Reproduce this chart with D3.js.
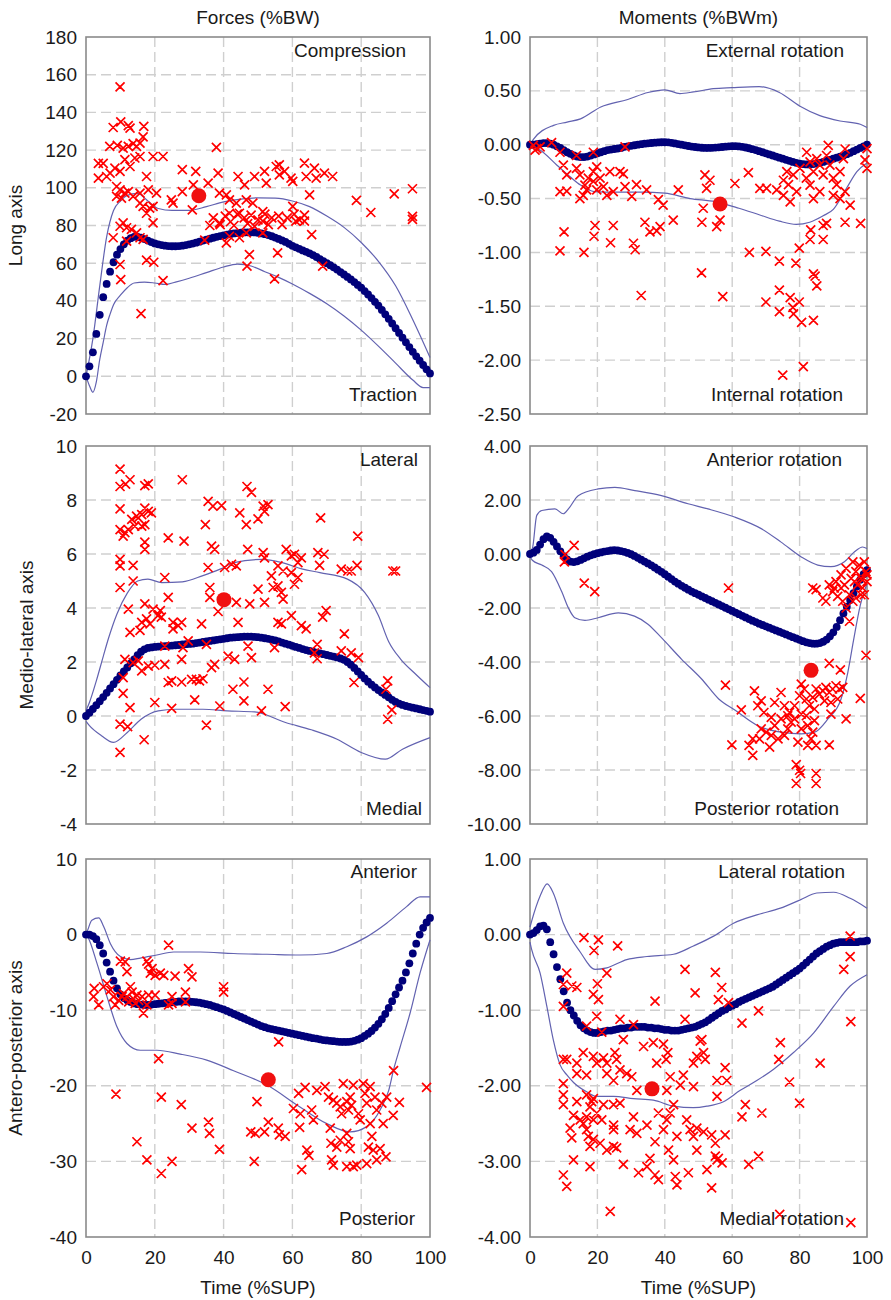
<!DOCTYPE html>
<html><head><meta charset="utf-8">
<script src="https://cdn.jsdelivr.net/npm/d3@7"></script>
<style>
body{margin:0;background:#fff;}
text{font-family:Arial,"Liberation Sans",sans-serif;fill:#1a1a1a;}
</style></head><body>
<svg id="chart" width="891" height="1300"></svg>
<script>
// ---------------- DATA ----------------
const time = d3.range(0, 101); // 0..100 %SUP, one mean dot per percent
const xTicks = [0, 20, 40, 60, 80, 100];
const colTitles = ["Forces (%BW)", "Moments (%BWm)"];
const rowTitles = ["Long axis", "Medio-lateral axis", "Antero-posterior axis"];
const xTitle = "Time (%SUP)";

const ticksA = [-20, 0, 20, 40, 60, 80, 100, 120, 140, 160, 180];
const ticksB = [-2.5, -2, -1.5, -1, -0.5, 0, 0.5, 1];
const ticksC = [-4, -2, 0, 2, 4, 6, 8, 10];
const ticksD = [-10, -8, -6, -4, -2, 0, 2, 4];
const ticksE = [-40, -30, -20, -10, 0, 10];
const ticksF = [-4, -3, -2, -1, 0, 1];

const labelsA = ["Compression", "Traction"];
const labelsB = ["External rotation", "Internal rotation"];
const labelsC = ["Lateral", "Medial"];
const labelsD = ["Anterior rotation", "Posterior rotation"];
const labelsE = ["Anterior", "Posterior"];
const labelsF = ["Lateral rotation", "Medial rotation"];

const meanA = [0,5.3,12.7,22.5,32.6,42,49,55.5,60.5,64.5,67.5,70,72,73.3,74,74,73.5,72.8,72,71.2,70.5,70,69.6,69.3,69.1,69,69,69.1,69.3,69.6,70,70.4,70.9,71.4,72,72.5,73,73.5,74,74.4,74.8,75.2,75.5,75.8,76,76.2,76.3,76.4,76.4,76.3,76.1,75.8,75.4,74.9,74.3,73.6,72.9,72.1,71.3,70.3,69.2,68.4,67.6,66.8,66,65.2,64.3,63.3,62.2,61.1,60,58.9,57.8,56.6,55.3,54,52.7,51.4,50,48.5,47,45.2,43.4,41.5,39.5,37.5,35.2,32.9,30.5,28,25.5,23,20.5,18,15.5,13,10.6,8.3,6,3.7,1.5];
const upperA = [[0,0],[2,20],[4,48],[6,74],[8,88],[10,93],[12,96],[15,97],[18,93],[21,89],[25,88],[30,88],[35,90],[40,92.5],[45,94],[50,94.7],[55,94.5],[60,93],[65,90],[70,85],[75,79],[80,71],[85,61],[90,48],[95,30],[100,10]];
const lowerA = [[0,0],[1,-5],[2,-8.5],[3,-3],[4,9],[5,18],[6,27],[7,33],[8,38],[10,43],[12,47],[14,49.5],[17,50],[20,49.5],[23,48.7],[26,50],[30,52],[35,55],[40,58],[44,59.5],[48,58.5],[52,55.5],[56,52.5],[60,49],[65,44],[70,38.5],[75,32],[80,24.5],[85,16],[90,7],[95,-2],[98,-6],[100,-6]];
const crossA = [[9.9,153.5],[7.9,132],[10.1,135],[12.3,133],[12.8,131.7],[16.8,132.6],[6.9,122],[9.1,122.5],[10.8,121],[12.3,122],[13.7,123.4],[14.7,122],[15.7,123.7],[16.6,127],[3.6,113],[5,113],[7,107.8],[8.4,110.4],[9.9,108.7],[11.3,114.9],[12.8,111.3],[14.2,115.8],[15.7,116.6],[3.6,105.1],[6,106],[17.6,106],[19.5,116.6],[22.4,116.6],[8.9,100.7],[9.9,98.9],[11.3,97.2],[12.3,98],[13.7,95.4],[8.9,95.4],[10.3,94.5],[15.7,91.9],[16.6,90.1],[18.5,89.2],[19.5,90.1],[17.6,86.5],[20.5,97.2],[15.7,97.2],[18.1,98.9],[24.8,93.6],[25.3,91.9],[28,98],[28,109.6],[31.9,108.7],[31.2,101.6],[30.9,88.3],[37.9,121.4],[35.5,102.5],[38.4,107.8],[38.8,97.2],[40.8,96.3],[41.7,93.6],[43.7,91.9],[44.2,106],[46.1,101.6],[49,106],[51.9,108.7],[52.4,102.5],[55.3,111.3],[56.2,112.2],[57.7,108.7],[59.6,105.1],[60.1,103.4],[60.1,90.1],[63.5,113.1],[64,106],[65,96.3],[66.4,110.4],[66.9,105.1],[69.3,107.8],[71.7,106],[78.6,93.3],[82.8,86.9],[89.6,96.8],[94.9,99.5],[94.9,84.8],[56.2,106.9],[48.5,91.9],[46.6,93.6],[44.6,86.5],[41.7,86.5],[51.4,87.4],[7.9,73.5],[9.9,79.6],[10.8,81.4],[11.8,78.8],[13.2,77.9],[14.7,76.1],[11.8,71.7],[15.7,73.5],[16.6,72.6],[9.9,59.3],[10.1,51.3],[17.6,61.6],[19.7,60.5],[22.4,50.8],[16,33.3],[19.5,81.4],[34.5,72.2],[38.8,81.4],[40.8,70.8],[41.7,74.3],[44.6,73.5],[46.6,76.1],[47.5,64.6],[46.8,58.4],[51.4,76.1],[55.7,65.5],[54.8,51.7],[61,82.3],[63.5,82.3],[65.6,75.2],[68.8,58.4],[94.9,83.2],[51.4,82.3],[37,84],[40.5,85],[42,82],[44,86],[46,84],[48,85.5],[50,83],[52,86],[54,84],[56,85],[58.5,84],[60.5,86],[62,83],[63.5,85.5],[36,80],[39,80.5],[43,80],[47,81],[49,79.5],[53,80.5],[57,80.5]];
const bigA = [32.8, 95.8];

const meanB = [0,0,0.005,0.01,0.015,0.015,0.01,0,-0.015,-0.03,-0.05,-0.07,-0.085,-0.1,-0.11,-0.115,-0.115,-0.11,-0.1,-0.09,-0.08,-0.07,-0.06,-0.05,-0.045,-0.04,-0.035,-0.03,-0.02,-0.015,-0.01,-0.005,0,0.005,0.01,0.013,0.016,0.019,0.021,0.023,0.023,0.022,0.018,0.012,0.006,0,-0.006,-0.012,-0.017,-0.021,-0.025,-0.028,-0.03,-0.03,-0.029,-0.027,-0.024,-0.021,-0.018,-0.015,-0.014,-0.014,-0.016,-0.02,-0.026,-0.033,-0.041,-0.05,-0.06,-0.07,-0.08,-0.09,-0.1,-0.11,-0.12,-0.13,-0.14,-0.15,-0.16,-0.168,-0.175,-0.18,-0.183,-0.183,-0.18,-0.175,-0.168,-0.16,-0.15,-0.14,-0.13,-0.12,-0.11,-0.1,-0.088,-0.075,-0.06,-0.045,-0.03,-0.015,0];
const upperB = [[0,0],[1,0.05],[7,0.18],[11,0.21],[15,0.24],[21,0.35],[29,0.42],[35,0.485],[40,0.51],[44.5,0.475],[48.5,0.49],[54.4,0.52],[60,0.53],[68,0.54],[74,0.485],[80,0.36],[86,0.27],[92,0.22],[98,0.19],[100,0.16]];
const lowerB = [[0,0],[3,-0.05],[8,-0.19],[12,-0.3],[15,-0.375],[19,-0.435],[25,-0.44],[33,-0.44],[40,-0.45],[47.5,-0.5],[55,-0.53],[62,-0.59],[68,-0.65],[74,-0.71],[79,-0.74],[83,-0.72],[87,-0.66],[90,-0.6],[94,-0.4],[97,-0.25],[100,-0.17]];
const crossB = [[1,-0.006],[2,-0.037],[1.5,-0.05],[3,-0.02],[6.4,0.02],[8.9,-0.07],[13.8,-0.1],[18.8,-0.07],[28.2,-0.02],[9.9,-0.19],[10.9,-0.28],[13.8,-0.22],[14.8,-0.28],[16.3,-0.375],[17.3,-0.31],[18.8,-0.25],[19.8,-0.205],[20.8,-0.31],[18.8,-0.34],[16.8,-0.42],[15.8,-0.47],[14.8,-0.5],[8.9,-0.435],[10.9,-0.43],[19.8,-0.42],[21.8,-0.39],[22.8,-0.47],[23.7,-0.25],[24.7,-0.435],[26.7,-0.25],[27.7,-0.27],[28.2,-0.39],[30.2,-0.48],[31.6,-0.37],[34.6,-0.42],[38.1,-0.51],[39.5,-0.56],[44,-0.42],[51.9,-0.28],[52.4,-0.405],[53.4,-0.33],[51.4,-0.59],[60.8,-0.36],[64.8,-0.26],[68.2,-0.405],[70.2,-0.405],[73.2,-0.42],[75.2,-0.33],[76.2,-0.25],[76.7,-0.37],[75.2,-0.47],[77.2,-0.53],[78.1,-0.28],[79.1,-0.435],[80.1,-0.22],[82.1,-0.07],[83.1,-0.16],[84.1,-0.25],[85.1,-0.13],[86,-0.19],[87,-0.28],[88,-0.1],[89,-0.19],[90,-0.31],[91,-0.37],[92,-0.25],[93,-0.13],[93.5,-0.04],[90,-0.47],[92,-0.5],[93.5,-0.435],[95,-0.56],[86,-0.435],[83.1,-0.375],[82,-0.31],[84.1,-0.5],[100,-0.037],[99.4,-0.14],[100,-0.22],[88.5,-0.006],[10.1,-0.81],[8.9,-0.985],[16,-1.0],[19.3,-0.75],[19,-0.85],[24.7,-0.75],[23.9,-0.91],[30.7,-0.915],[31.2,-0.975],[34.1,-0.72],[35.6,-0.81],[37.6,-0.8],[38.6,-0.76],[42.5,-0.7],[33,-1.4],[51,-0.72],[55.4,-0.76],[56.4,-0.7],[50.9,-1.19],[57.2,-1.41],[65.1,-1.0],[70,-0.99],[74,-1.08],[78.9,-1.1],[79.9,-0.96],[83.1,-0.88],[83.3,-0.79],[87,-0.88],[87,-0.75],[88,-0.73],[93.5,-0.72],[98.1,-0.73],[84.1,-1.2],[84.6,-1.22],[85.1,-1.31],[70,-1.46],[74,-1.35],[74,-1.55],[77.2,-1.42],[78,-1.51],[78.2,-1.57],[79.9,-1.46],[80.6,-1.65],[84.1,-1.63],[75,-2.14],[81.1,-2.06]];
const bigB = [56.4, -0.55];

const meanC = [0,0.12,0.26,0.4,0.55,0.7,0.86,1.02,1.18,1.34,1.5,1.65,1.8,1.95,2.1,2.25,2.38,2.47,2.52,2.54,2.56,2.57,2.58,2.59,2.6,2.61,2.62,2.63,2.65,2.66,2.67,2.68,2.7,2.72,2.74,2.76,2.78,2.8,2.82,2.84,2.86,2.88,2.9,2.91,2.92,2.93,2.94,2.94,2.94,2.93,2.92,2.9,2.88,2.86,2.83,2.8,2.76,2.72,2.68,2.64,2.6,2.56,2.52,2.48,2.44,2.41,2.38,2.35,2.32,2.29,2.26,2.23,2.2,2.17,2.13,2.08,2,1.9,1.78,1.65,1.52,1.39,1.27,1.16,1.06,0.96,0.87,0.78,0.69,0.6,0.52,0.46,0.41,0.37,0.34,0.31,0.28,0.25,0.22,0.19,0.16];
const upperC = [[0,0.2],[1,0.5],[3,1.3],[5,2.2],[6.5,2.86],[9,3.78],[12,4.55],[15,5.0],[18,5.07],[22,4.94],[28,4.97],[34,5.2],[39,5.44],[43,5.68],[51,5.8],[57,5.68],[63,5.44],[68,5.31],[76,5.07],[81,4.58],[85,3.72],[88,2.75],[91.5,2.1],[95.4,1.6],[100,1.05]];
const lowerC = [[0,-0.2],[1,-0.36],[4.5,-0.73],[8,-0.98],[12,-0.61],[16,-0.12],[21,0.19],[26,0.25],[34,0.25],[41,0.19],[49,0.15],[58,-0.24],[65.5,-0.51],[73,-0.86],[80,-1.35],[87,-1.6],[92,-1.23],[100,-0.8]];
const crossC = [[9.9,9.14],[9.9,8.5],[12.8,8.75],[11.5,8.59],[17.1,8.53],[18.1,8.6],[28,8.75],[46.8,8.5],[48.1,8.28],[9.9,7.67],[9.9,6.9],[11.3,6.79],[10.8,6.66],[12.3,6.9],[13.3,7.28],[14.2,7.03],[14.7,7.4],[16.2,7.46],[17.1,7.7],[18.1,7.58],[19,7.52],[17.1,7.09],[16.2,7.03],[15.2,7.34],[35.5,7.95],[36.9,7.77],[39.4,7.79],[44.7,7.52],[46.6,7.09],[50,7.3],[51.5,7.77],[52.9,7.83],[51.9,7.58],[68.2,7.34],[79,6.66],[23.9,6.6],[28.5,6.48],[34.7,7.09],[17.1,6.44],[17.1,6.17],[9.9,5.8],[9.9,5.56],[13.7,5.58],[9.9,4.76],[13.7,5.0],[22.9,5.13],[35.5,5.5],[37.4,6.17],[36.5,6.29],[40.3,5.5],[42.3,5.62],[43.7,5.56],[47,6.17],[51.5,6.05],[51.9,5.86],[55.8,5.56],[57.3,5.37],[58.2,6.17],[59.7,5.93],[60.6,5.99],[61.6,5.68],[62.6,5.86],[59.7,5.31],[61.6,5.13],[60.6,4.88],[67.4,6.05],[69.2,5.99],[67.9,5.58],[74.2,5.44],[76.1,5.37],[77.1,5.37],[78.8,5.58],[89.2,5.37],[90,5.37],[12.3,3.96],[17.1,4.15],[19.5,3.96],[21.6,3.9],[23.9,4.39],[17.6,3.6],[16.2,3.47],[18.6,3.41],[20.9,3.72],[21.9,3.66],[25.3,3.47],[26.8,3.35],[27.8,3.47],[25.3,3.23],[33.6,3.41],[36,4.76],[36,4.39],[38.4,3.87],[43.7,4.21],[44.2,3.47],[47.6,4.15],[50,4.7],[51.9,4.21],[53.9,5.19],[54.4,4.76],[55.8,4.82],[56.8,4.58],[57.3,4.33],[55.8,3.47],[56.8,3.41],[59.7,3.72],[62.6,3.35],[64,3.23],[69.8,3.9],[68.8,3.66],[75.1,3.04],[12.8,3.1],[15.7,3.17],[11.3,2.1],[13.7,1.98],[15.2,2.04],[16.2,1.67],[18.1,1.85],[20,1.88],[22.9,1.91],[22.9,2.59],[27.8,2.1],[28.2,2.53],[29.7,2.78],[35,2.65],[37.4,1.91],[36.5,1.79],[41.3,2.22],[43.2,2.1],[47.1,2.59],[48.1,2.16],[54.8,2.53],[66.4,2.34],[67.2,2.12],[67.2,2.65],[74.2,2.41],[77.1,2.34],[79.2,2.16],[77.9,1.24],[10.8,1.42],[10.8,0.84],[12.8,0.31],[9.9,-0.3],[12.1,-0.39],[9.9,-1.35],[16.9,-0.88],[20,0.5],[23.9,1.24],[24.9,1.3],[27.8,1.26],[24.9,0.28],[30.7,1.36],[32.1,1.36],[34,1.38],[33,1.3],[31.6,0.6],[35,-0.34],[38.9,0.37],[42.7,0.99],[45.9,1.26],[45.9,0.56],[51,0.19],[52.9,0.99],[57.9,0.35],[87.7,1.3],[87.2,0.99],[88.9,0.23],[87.7,-0.12]];
const bigC = [40.1, 4.31];

const meanD = [0,0.05,0.15,0.35,0.55,0.65,0.6,0.45,0.28,0.1,-0.08,-0.2,-0.28,-0.3,-0.27,-0.22,-0.16,-0.1,-0.05,-0.01,0.03,0.06,0.09,0.11,0.13,0.14,0.13,0.11,0.08,0.04,-0.01,-0.07,-0.14,-0.21,-0.28,-0.35,-0.42,-0.5,-0.58,-0.66,-0.75,-0.84,-0.93,-1.02,-1.1,-1.18,-1.25,-1.32,-1.39,-1.45,-1.51,-1.57,-1.63,-1.69,-1.75,-1.81,-1.87,-1.93,-1.99,-2.05,-2.11,-2.17,-2.23,-2.29,-2.35,-2.41,-2.47,-2.52,-2.58,-2.63,-2.68,-2.73,-2.78,-2.83,-2.88,-2.93,-2.98,-3.03,-3.08,-3.13,-3.18,-3.23,-3.27,-3.3,-3.32,-3.32,-3.3,-3.25,-3.17,-3.05,-2.9,-2.7,-2.45,-2.2,-1.95,-1.7,-1.45,-1.2,-0.95,-0.75,-0.6];
const upperD = [[0,0.1],[0.7,0.2],[2,1.43],[3.5,1.61],[7.4,1.67],[9.9,1.49],[11.4,1.67],[14.3,2.16],[20.2,2.41],[25.2,2.47],[31.1,2.35],[39,2.16],[46.9,1.86],[52.8,1.67],[60.7,1.37],[68.6,0.94],[74.5,0.44],[80.5,-0.11],[85.4,-0.41],[89.3,-0.47],[93.3,-0.29],[96.3,0.08],[98.7,0.26],[100,0.2]];
const lowerD = [[0,-0.1],[0.7,-0.23],[3.5,-0.41],[6.4,-0.65],[9.4,-1.39],[11.4,-2.0],[13.3,-2.36],[16.3,-2.46],[20.2,-2.36],[26.2,-2.18],[31,-2.3],[35,-2.6],[39,-3.1],[45,-3.9],[51,-4.64],[56,-5.37],[61,-5.8],[67.6,-6.36],[74.5,-6.6],[80.5,-6.66],[84.4,-6.6],[88.4,-6.11],[92.3,-5.37],[94.3,-4.39],[96,-3.2],[98,-1.9],[100,-1.1]];
const crossD = [[10.4,-0.02],[13.1,0.32],[10.2,-0.29],[16.1,-1.08],[19.2,-1.39],[58.9,-1.26],[83.9,-1.26],[84.9,-1.32],[86.9,-1.63],[88.8,-1.14],[89.8,-1.39],[90.8,-1.02],[92.3,-0.77],[93.3,-1.14],[91.3,-1.57],[92.8,-1.75],[93.8,-2.0],[94.8,-1.51],[95.8,-0.29],[96.3,-1.02],[96.7,-0.65],[97.7,-0.41],[98.2,-0.9],[98.7,-1.26],[99.7,-0.65],[99.2,-0.29],[100,-0.77],[98.2,-1.51],[96.7,-1.63],[94.8,-2.49],[97.2,-1.14],[95.3,-0.9],[93.8,-0.53],[99.2,-1.51],[100,-1.02],[87.8,-1.75],[95.8,-1.75],[90.3,-1.26],[92.3,-1.26],[99.7,-3.75],[88.8,-4.05],[92.1,-4.29],[58,-4.86],[98,-5.35],[66.6,-5.07],[68.6,-5.44],[67.6,-5.62],[69.4,-5.87],[72.6,-5.5],[74.5,-5.13],[75.5,-5.62],[77,-5.87],[78.5,-5.62],[80,-5.25],[80.5,-4.82],[81.4,-5.0],[82,-5.37],[82.9,-5.62],[83.9,-5.31],[84.9,-5.0],[85.9,-5.19],[86.9,-5.07],[87.8,-4.94],[88.8,-5.13],[89.8,-5.0],[90.8,-4.88],[91.8,-5.0],[92.8,-4.94],[87.4,-5.44],[89.3,-5.5],[91.3,-5.37],[84.4,-5.74],[82,-5.99],[80.5,-5.93],[78.5,-6.11],[76.5,-5.99],[74.5,-6.11],[72.6,-6.36],[71.6,-6.05],[62.7,-5.77],[84.4,-6.17],[82.4,-6.36],[80.5,-6.48],[83.9,-6.6],[93.8,-6.11],[89.3,-5.93],[68.6,-6.48],[70.1,-6.6],[71.6,-6.72],[73.6,-6.85],[75.5,-6.72],[76.5,-6.48],[79.5,-6.97],[68.1,-6.85],[66.1,-6.85],[59.9,-7.07],[65,-7.09],[66.1,-7.46],[71.1,-7.15],[82.4,-7.09],[84.9,-7.09],[88.8,-7.07],[79,-7.8],[80,-8.01],[80.3,-8.13],[79,-8.5],[84.9,-8.13],[84.9,-8.5],[83.4,-6.85],[77.5,-6.23]];
const bigD = [83.4, -4.31];

const meanE = [0,0,-0.2,-0.6,-1.4,-2.5,-3.7,-4.9,-6.1,-7.1,-7.9,-8.4,-8.7,-8.9,-9.1,-9.2,-9.25,-9.3,-9.3,-9.25,-9.2,-9.15,-9.1,-9.05,-9,-8.95,-8.9,-8.85,-8.85,-8.85,-8.85,-8.9,-8.95,-9,-9.1,-9.2,-9.3,-9.45,-9.6,-9.75,-9.9,-10.1,-10.3,-10.5,-10.7,-10.9,-11.1,-11.3,-11.5,-11.7,-11.9,-12.1,-12.25,-12.4,-12.5,-12.6,-12.7,-12.8,-12.9,-13,-13.1,-13.2,-13.3,-13.4,-13.5,-13.6,-13.7,-13.75,-13.85,-13.95,-14,-14.05,-14.1,-14.15,-14.2,-14.2,-14.2,-14.15,-14.05,-13.9,-13.7,-13.4,-13.1,-12.75,-12.3,-11.8,-11.2,-10.5,-9.7,-8.8,-7.9,-7,-6.1,-5,-3.8,-2.5,-1.2,0,0.9,1.6,2.2];
const upperE = [[0,0],[0.5,0.6],[1.7,1.9],[3.7,2.2],[5.1,1.1],[7.1,-1.2],[10,-2.9],[12.9,-3.3],[15.8,-3.1],[20.6,-2.7],[25.5,-2.3],[33.2,-2.3],[42.9,-2.5],[52.6,-2.6],[62.2,-2.7],[70,-2.5],[75.8,-1.6],[81.6,-0.3],[87.4,1.5],[93.2,3.7],[97.1,5.0],[100,5.0]];
const lowerE = [[0,0],[0.5,-0.3],[3.2,-3.8],[6.1,-8.2],[9,-12.2],[11.9,-14.4],[15.8,-15.3],[20.6,-15.3],[27.4,-15.8],[35.1,-16.6],[42.9,-18],[52.6,-19.9],[62.2,-22.8],[70,-25],[76.8,-26.1],[81.6,-25.4],[85.5,-23.2],[88,-20.6],[89.4,-17.9],[91.3,-14.9],[94.2,-10.4],[97.1,-5.1],[100,-0.7]];
const crossE = [[24,-1.4],[10,-3.5],[11.4,-3.6],[11.9,-4.9],[17.7,-3.5],[18.2,-3.9],[19.2,-4.5],[18.7,-5.1],[20.1,-5.4],[21.6,-5.1],[22.6,-5.4],[25.9,-5.5],[29.8,-4.5],[30.8,-5.6],[40,-6.9],[40,-7.6],[2.4,-7.1],[2.2,-8.2],[3.7,-9.3],[5.1,-6.9],[6.1,-6.5],[7.1,-7.3],[8,-8.2],[8.5,-9.3],[9.5,-8.7],[10.5,-8.2],[10.9,-7.8],[11.9,-8.2],[12.4,-8.9],[12.9,-6.9],[13.4,-7.6],[13.8,-8.5],[14.3,-9.1],[14.8,-8],[15.3,-8.7],[16.3,-8.2],[16.7,-10.4],[17.7,-9.3],[18.2,-8],[20.1,-8],[24,-9.3],[25,-8.2],[25,-9.1],[28.9,-7.6],[28.9,-8.9],[56,-14.2],[21.1,-16.4],[89.4,-18],[8.7,-21.1],[14.8,-27.4],[17.7,-29.8],[21.9,-21.5],[21.9,-31.6],[25,-30],[27.7,-22.5],[30.8,-25.6],[35.6,-24.8],[35.9,-26.3],[38.8,-28.4],[48.9,-30],[49.7,-22.1],[47.9,-26.1],[49.2,-26.3],[51.9,-26.1],[53,-24.8],[55.9,-25.6],[56.2,-26.5],[57.9,-26.7],[60.3,-23],[61.8,-21],[62.3,-23.7],[62.1,-25.5],[62.7,-31.1],[64.2,-28.5],[64.8,-29.2],[63.7,-20.2],[65.6,-23.2],[66.1,-24.5],[67.1,-20.6],[69.5,-20.1],[70.5,-21.5],[71,-25.6],[71.2,-27.6],[71.4,-29.8],[71.9,-30.5],[71.9,-21.9],[72.9,-22.3],[73.9,-22.8],[74.3,-23.7],[74.8,-19.7],[75.8,-22.1],[76.3,-23.2],[76.8,-21.5],[77.2,-22.6],[77.7,-19.9],[75.8,-26.3],[76.3,-27.4],[76.8,-28.3],[77.7,-30.7],[75.8,-30.7],[78.7,-30.5],[79.2,-23.7],[79.7,-24.5],[80.6,-19.7],[81.1,-21],[81.6,-22.3],[82.1,-28.1],[82.6,-20.1],[82.6,-25],[83.1,-26.7],[83.5,-28.5],[84,-21.5],[84.5,-23.2],[84.5,-29.8],[85.5,-28.3],[86,-22.3],[86.4,-25],[87.4,-21.5],[87.2,-29.4],[89.3,-23.9],[91.1,-22.2],[99,-20.2],[72.9,-28.1],[73.9,-27.2],[81.6,-30.3]];
const bigE = [53, -19.2];

const meanF = [0,0.02,0.06,0.11,0.12,0.07,-0.1,-0.26,-0.43,-0.59,-0.75,-0.9,-1,-1.07,-1.14,-1.2,-1.24,-1.27,-1.29,-1.3,-1.3,-1.29,-1.28,-1.27,-1.27,-1.26,-1.25,-1.24,-1.24,-1.23,-1.23,-1.22,-1.22,-1.22,-1.22,-1.23,-1.23,-1.24,-1.24,-1.25,-1.26,-1.26,-1.27,-1.27,-1.27,-1.26,-1.25,-1.24,-1.23,-1.22,-1.2,-1.18,-1.16,-1.13,-1.1,-1.07,-1.04,-1.01,-0.99,-0.96,-0.94,-0.92,-0.89,-0.87,-0.85,-0.83,-0.81,-0.79,-0.77,-0.75,-0.73,-0.71,-0.69,-0.66,-0.63,-0.6,-0.57,-0.54,-0.51,-0.48,-0.45,-0.41,-0.37,-0.33,-0.29,-0.25,-0.22,-0.19,-0.16,-0.14,-0.12,-0.11,-0.1,-0.1,-0.1,-0.1,-0.1,-0.1,-0.09,-0.09,-0.08];
const upperF = [[0,0.1],[0.5,0.18],[3,0.51],[5.1,0.67],[6.9,0.55],[9.9,0.15],[14.9,-0.23],[19.3,-0.46],[22.8,-0.44],[28.7,-0.33],[34.7,-0.29],[42.6,-0.26],[48.5,-0.15],[54.5,-0.02],[60.4,0.15],[67.3,0.26],[74.3,0.35],[80.2,0.46],[85.1,0.55],[90.1,0.56],[95,0.48],[100,0.35]];
const lowerF = [[0,-0.1],[0.5,-0.2],[3,-0.51],[5,-0.95],[6.9,-1.39],[8.9,-1.72],[11,-1.86],[13,-1.96],[16.8,-2.08],[19.8,-2.14],[24.8,-2.14],[30.7,-2.17],[36.6,-2.19],[42.6,-2.27],[48.5,-2.29],[52.5,-2.27],[57.4,-2.21],[62.4,-2.06],[67.3,-1.93],[72.3,-1.78],[78.2,-1.56],[84.2,-1.3],[90.1,-0.95],[95,-0.68],[100,-0.53]];
const crossF = [[16,-0.04],[20.3,-0.07],[19,-0.21],[26,-0.15],[10.9,-0.51],[9.9,-0.66],[12.4,-0.68],[13.9,-0.7],[22.8,-0.51],[20,-0.65],[18.8,-0.79],[20.3,-0.86],[9.9,-0.95],[19.8,-1.08],[16.8,-1.21],[21.3,-1.29],[26.7,-1.12],[30.7,-1.19],[27.7,-1.39],[37.1,-0.88],[46,-0.46],[49,-0.77],[55,-0.5],[56.9,-0.7],[55.9,-0.86],[58.9,-0.9],[46,-1.12],[51,-1.39],[62.9,-1.17],[67.8,-1.01],[95,-0.02],[95,-0.29],[93.1,-0.46],[95.2,-1.15],[33.7,-1.48],[36.6,-1.43],[39.6,-1.45],[40.9,-1.56],[40.4,-1.65],[37.6,-1.7],[9.9,-1.65],[10.9,-1.65],[13.9,-1.7],[15.8,-1.56],[18.8,-1.61],[19.8,-1.7],[21.8,-1.63],[22.8,-1.7],[25.2,-1.56],[25.7,-1.65],[49.5,-1.61],[51.5,-1.56],[52,-1.65],[50.5,-1.41],[74.3,-1.43],[73.8,-1.65],[86.1,-1.7],[48.5,-1.7],[57.9,-1.76],[9.9,-1.97],[9.9,-2.12],[9.9,-2.25],[13.9,-2.21],[16.8,-2.12],[18.3,-2.21],[18.8,-2.17],[17.8,-2.28],[21.8,-2.25],[24.8,-2.25],[26.7,-2.23],[26.7,-1.79],[28.7,-1.84],[30.2,-1.88],[31.7,-2.06],[13.9,-1.84],[16.8,-1.86],[22.8,-1.84],[24.8,-1.93],[12.9,-2.39],[14.9,-2.45],[16.8,-2.41],[15.8,-2.5],[18.8,-2.45],[19.8,-2.36],[21.3,-2.45],[24.8,-2.52],[24.8,-2.58],[11.9,-2.56],[12.4,-2.69],[16.8,-2.58],[17.3,-2.67],[17.8,-2.8],[18.8,-2.71],[20.8,-2.76],[22.8,-2.85],[24.8,-2.8],[25.7,-2.82],[12.9,-2.98],[17.8,-3.07],[27.7,-3.04],[29.7,-2.58],[30.7,-2.41],[31.7,-2.63],[32.2,-3.15],[34.7,-2.52],[35.6,-2.96],[34.7,-3.07],[37.1,-3.18],[38.1,-3.24],[37.1,-2.74],[38.1,-2.36],[39.6,-2.58],[40.6,-2.45],[41.6,-2.36],[41.1,-2.85],[42.6,-2.98],[43.1,-3.2],[43.6,-3.31],[43.6,-2.67],[42.6,-2.25],[40.6,-2.06],[41.6,-1.88],[44.6,-1.99],[45.5,-1.86],[46.5,-2.45],[47.5,-2.58],[47,-3.15],[48.5,-2.67],[49.5,-2.56],[49.5,-2.85],[51.5,-2.61],[52.5,-3.11],[53.9,-3.35],[53.9,-2.65],[55,-2.76],[55,-2.93],[55.5,-2.98],[55.9,-2.96],[57.9,-2.65],[55.5,-1.93],[55.5,-2.14],[58.4,-1.93],[48.5,-2.01],[62.9,-2.41],[63.9,-2.25],[64.9,-3.04],[67.8,-2.93],[68.8,-2.36],[77,-1.95],[80,-2.23],[23.8,-3.66],[74.1,-3.7],[95.2,-3.81],[9.9,-3.18],[10.9,-3.33],[57,-3.02]];
const bigF = [36.2, -2.04];

// ---------------- LAYOUT ----------------
const W = 891, H = 1300;
const colX = [[86, 430], [530, 867]];
const rowY = [[37, 414], [446, 824], [859, 1237]];
const rowTitleX = [22, 33, 22];
const fmtInt = d => String(d);
const fmt2 = d => d.toFixed(2);

const panels = [
  {c:0,r:0,ticks:ticksA,fmt:fmtInt,mean:meanA,up:upperA,lo:lowerA,cross:crossA,big:bigA,lab:labelsA,lt:[-24,19.5],lb:[-13,-13]},
  {c:1,r:0,ticks:ticksB,fmt:fmt2,mean:meanB,up:upperB,lo:lowerB,cross:crossB,big:bigB,lab:labelsB,lt:[-23,19.5],lb:[-24,-13]},
  {c:0,r:1,ticks:ticksC,fmt:fmtInt,mean:meanC,up:upperC,lo:lowerC,cross:crossC,big:bigC,lab:labelsC,lt:[-12,20],lb:[-8,-9]},
  {c:1,r:1,ticks:ticksD,fmt:fmt2,mean:meanD,up:upperD,lo:lowerD,cross:crossD,big:bigD,lab:labelsD,lt:[-25,20],lb:[-28,-9]},
  {c:0,r:2,ticks:ticksE,fmt:fmtInt,mean:meanE,up:upperE,lo:lowerE,cross:crossE,big:bigE,lab:labelsE,lt:[-13,19],lb:[-15,-12]},
  {c:1,r:2,ticks:ticksF,fmt:fmt2,mean:meanF,up:upperF,lo:lowerF,cross:crossF,big:bigF,lab:labelsF,lt:[-22,19],lb:[-23,-12]}
];

const svg = d3.select("#chart");
svg.append("rect").attr("width", W).attr("height", H).attr("fill", "#fff");
const FS = "19px";

panels.forEach(p => {
  const [x0, x1] = colX[p.c], [y0, y1] = rowY[p.r];
  const x = d3.scaleLinear().domain([0, 100]).range([x0, x1]);
  const y = d3.scaleLinear().domain(d3.extent(p.ticks)).range([y1, y0]);
  const g = svg.append("g");

  // grid
  g.selectAll("line.h").data(p.ticks.slice(1, -1)).join("line")
    .attr("x1", x0).attr("x2", x1).attr("y1", d => y(d)).attr("y2", d => y(d))
    .attr("stroke", "#cfcfcf").attr("stroke-width", 1.4).attr("stroke-dasharray", "10,5");
  g.selectAll("line.v").data(xTicks.slice(1, -1)).join("line")
    .attr("y1", y0).attr("y2", y1).attr("x1", d => x(d)).attr("x2", d => x(d))
    .attr("stroke", "#cfcfcf").attr("stroke-width", 1.4).attr("stroke-dasharray", "10,5");

  // frame
  g.append("rect").attr("x", x0).attr("y", y0).attr("width", x1 - x0).attr("height", y1 - y0)
    .attr("fill", "none").attr("stroke", "#8a8a8a").attr("stroke-width", 1.6);

  // y axis labels
  const ya = g.append("g").attr("transform", `translate(${x0},0)`)
    .call(d3.axisLeft(y).tickValues(p.ticks).tickFormat(p.fmt).tickSize(0).tickPadding(9));
  ya.select(".domain").remove();
  ya.selectAll("text").style("font-size", FS).style("font-family", "Arial, 'Liberation Sans', sans-serif").attr("fill", "#1a1a1a");

  // x axis labels (bottom row only)
  if (p.r === 2) {
    const xa = g.append("g").attr("transform", `translate(0,${y1})`)
      .call(d3.axisBottom(x).tickValues(xTicks).tickSize(0).tickPadding(14));
    xa.select(".domain").remove();
    xa.selectAll("text").style("font-size", FS).style("font-family", "Arial, 'Liberation Sans', sans-serif").attr("fill", "#1a1a1a");
    g.append("text").attr("x", (x0 + x1) / 2).attr("y", 1294).attr("text-anchor", "middle")
      .style("font-size", FS).text(xTitle);
  }

  // SD lines
  const line = d3.line().x(d => x(d[0])).y(d => y(d[1])).curve(d3.curveMonotoneX);
  [p.up, p.lo].forEach(arr => {
    g.append("path").attr("d", line(arr)).attr("fill", "none")
      .attr("stroke", "#6262b0").attr("stroke-width", 1.2);
  });

  // mean dots
  g.selectAll("circle.m").data(p.mean).join("circle")
    .attr("cx", (d, i) => x(time[i])).attr("cy", d => y(d)).attr("r", 3.9)
    .attr("fill", "#00007a");

  // crosses
  const s = 4.5;
  g.append("path").attr("fill", "none").attr("stroke", "#ff0000").attr("stroke-width", 1.7)
    .attr("d", p.cross.map(d => {
      const cx = x(d[0]), cy = y(d[1]);
      return `M${cx - s},${cy - s}L${cx + s},${cy + s}M${cx - s},${cy + s}L${cx + s},${cy - s}`;
    }).join(""));

  // big red circle
  g.append("circle").attr("cx", x(p.big[0])).attr("cy", y(p.big[1])).attr("r", 7.5).attr("fill", "#f01010");

  // annotations
  g.append("text").attr("x", x1 + p.lt[0]).attr("y", y0 + p.lt[1]).attr("text-anchor", "end")
    .style("font-size", FS).text(p.lab[0]);
  g.append("text").attr("x", x1 + p.lb[0]).attr("y", y1 + p.lb[1]).attr("text-anchor", "end")
    .style("font-size", FS).text(p.lab[1]);
});

// column titles
colTitles.forEach((t, i) => {
  svg.append("text").attr("x", (colX[i][0] + colX[i][1]) / 2).attr("y", 23.5)
    .attr("text-anchor", "middle").style("font-size", FS).text(t);
});
// row titles
rowTitles.forEach((t, i) => {
  const cy = (rowY[i][0] + rowY[i][1]) / 2;
  svg.append("text").attr("transform", `translate(${rowTitleX[i]},${cy}) rotate(-90)`)
    .attr("text-anchor", "middle").style("font-size", FS).text(t);
});
</script>
</body></html>
